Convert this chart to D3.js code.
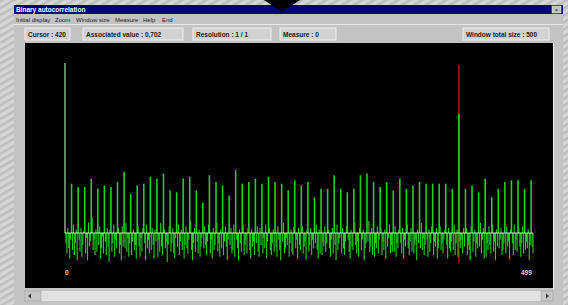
<!DOCTYPE html>
<html>
<head>
<meta charset="utf-8">
<script src="https://cdn.jsdelivr.net/npm/d3@7/dist/d3.min.js"></script>
<style>
  html, body { margin: 0; padding: 0; background: #cfcfcf; }
  svg { display: block; }
  text { font-family: "Liberation Sans", Arial, sans-serif; }
</style>
</head>
<body>
<div id="chart"></div>
<script>
// autocorrelation values, lag 0..499 (one row = one period of 7 lags)
var autocorr = [
  1.00,-0.06,-0.12,0.03,-0.09,-0.15,-0.04,   0.29,-0.10,0.05,-0.13,-0.06,0.02,-0.16,
  0.27,-0.04,-0.11,0.03,-0.14,-0.07,0.01,    0.27,-0.12,-0.03,-0.16,0.06,-0.08,-0.05,
  0.32,0.09,-0.10,-0.04,-0.13,0.02,-0.11,    0.26,-0.07,0.04,-0.15,-0.09,-0.02,-0.12,
  0.28,-0.05,-0.13,0.03,-0.08,-0.17,0.02,    0.27,-0.11,-0.06,0.05,-0.14,-0.04,-0.09,
  0.30,0.03,-0.12,-0.07,-0.16,0.04,-0.08,    0.36,-0.09,0.06,-0.11,-0.03,-0.14,-0.06,
  0.23,-0.13,-0.05,0.02,-0.10,-0.07,-0.15,   0.28,0.04,-0.08,-0.14,-0.03,-0.11,0.03,
  0.29,-0.06,-0.16,0.05,-0.09,-0.04,-0.12,   0.33,-0.10,0.03,-0.07,-0.15,0.02,-0.05,
  0.32,-0.14,-0.04,-0.11,0.06,-0.08,-0.13,   0.35,0.02,-0.09,-0.05,-0.17,-0.07,0.04,
  0.25,-0.11,-0.06,0.03,-0.12,-0.15,-0.03,   0.24,-0.08,0.05,-0.13,-0.05,0.02,-0.10,
  0.32,-0.15,-0.07,0.04,-0.09,-0.12,-0.04,   0.33,0.07,-0.10,-0.16,-0.06,0.03,-0.11,
  0.25,-0.05,-0.12,0.02,-0.14,-0.08,-0.03,   0.18,-0.09,0.04,-0.07,-0.13,-0.05,0.05,
  0.34,-0.12,-0.04,-0.15,0.03,-0.10,-0.07,   0.30,0.06,-0.11,-0.06,-0.14,0.02,-0.09,
  0.28,-0.13,-0.05,0.04,-0.08,-0.16,-0.04,   0.22,-0.07,0.03,-0.12,-0.10,0.05,-0.14,
  0.37,-0.04,-0.09,-0.16,0.02,-0.06,-0.11,   0.29,0.05,-0.13,-0.07,-0.04,-0.12,0.03,
  0.30,-0.10,-0.15,0.02,-0.08,-0.05,-0.13,   0.32,-0.06,0.04,-0.11,-0.14,0.03,-0.07,
  0.29,-0.12,-0.03,-0.09,0.05,-0.15,-0.05,   0.33,0.03,-0.10,-0.13,-0.06,0.02,-0.11,
  0.30,-0.08,-0.14,0.04,-0.04,-0.10,-0.16,   0.29,-0.05,0.06,-0.12,-0.09,-0.03,-0.07,
  0.25,-0.14,-0.06,0.02,-0.11,-0.13,0.04,    0.31,-0.09,-0.04,-0.15,0.03,-0.07,-0.10,
  0.28,0.04,-0.12,-0.08,-0.05,-0.16,0.02,    0.30,-0.11,-0.07,0.03,-0.13,-0.04,-0.09,
  0.21,-0.06,0.05,-0.10,-0.15,0.02,-0.12,    0.26,-0.13,-0.05,-0.08,0.04,-0.11,-0.06,
  0.26,0.02,-0.09,-0.14,-0.04,0.03,-0.12,    0.34,-0.07,-0.16,0.05,-0.10,-0.06,-0.03,
  0.26,-0.12,0.03,-0.09,-0.13,-0.05,0.04,    0.24,-0.04,-0.11,-0.15,0.02,-0.08,-0.10,
  0.26,0.06,-0.07,-0.12,-0.05,-0.14,0.03,    0.34,-0.10,-0.04,0.02,-0.16,-0.09,-0.06,
  0.35,-0.05,0.07,-0.11,-0.08,0.03,-0.13,    0.30,-0.14,-0.06,-0.09,0.04,-0.12,-0.04,
  0.27,0.03,-0.13,-0.05,-0.10,0.02,-0.15,    0.30,-0.08,-0.03,0.05,-0.12,-0.07,-0.11,
  0.25,-0.11,0.04,-0.14,-0.06,-0.09,0.02,    0.32,-0.06,-0.12,0.03,-0.15,-0.04,-0.08,
  0.26,0.05,-0.09,-0.13,-0.05,0.03,-0.11,    0.28,-0.12,-0.07,-0.04,-0.16,0.02,-0.06,
  0.30,-0.09,0.06,-0.10,-0.03,-0.13,-0.07,   0.29,-0.04,-0.14,0.02,-0.11,-0.06,0.04,
  0.29,-0.13,-0.05,-0.08,0.03,-0.15,-0.09,   0.29,0.04,-0.10,-0.06,-0.12,-0.04,0.02,
  0.29,-0.07,-0.15,0.03,-0.09,-0.11,-0.05,   0.26,-0.10,0.05,-0.13,-0.06,0.02,-0.14,
  0.702,-0.05,-0.09,-0.04,-0.12,0.03,-0.08,  0.26,0.03,-0.13,-0.07,-0.10,-0.16,0.04,
  0.28,-0.11,-0.05,0.02,-0.14,-0.06,-0.09,   0.24,-0.08,0.06,-0.12,-0.04,0.03,-0.15,
  0.32,-0.14,-0.06,-0.10,0.04,-0.07,-0.12,   0.21,0.05,-0.11,-0.05,-0.16,0.02,-0.08,
  0.26,-0.09,-0.04,0.03,-0.13,-0.10,-0.06,   0.30,-0.12,0.04,-0.08,-0.05,-0.15,0.02,
  0.31,-0.06,-0.13,0.05,-0.10,-0.04,-0.11,   0.31,0.03,-0.08,-0.14,-0.06,0.04,-0.12,
  0.26,-0.10,-0.05,-0.09,0.02,-0.16,-0.07,   0.31,-0.08,-0.12
];

var menuItems = ['Initial display', 'Zoom', 'Window size', 'Measure', 'Help', 'End'];
var menuX = [16, 55, 76, 115, 143, 162];

var statusFields = [
  {label: 'Cursor : 420', x: 25, w: 45},
  {label: 'Associated value : 0,702', x: 83, w: 100},
  {label: 'Resolution : 1 / 1', x: 193, w: 78},
  {label: 'Measure : 0', x: 280, w: 56},
  {label: 'Window total size : 500', x: 463, w: 86}
];

var cursorLag = 420;
var lagLabels = [0, 499];

var width = 568, height = 305;

var svg = d3.select('#chart').append('svg')
    .attr('width', width)
    .attr('height', height);

// striped backdrop
var defs = svg.append('defs');
var pat = defs.append('pattern')
    .attr('id', 'stripes')
    .attr('width', 6).attr('height', 6)
    .attr('patternUnits', 'userSpaceOnUse')
    .attr('patternTransform', 'rotate(-30)');
pat.append('rect').attr('width', 6).attr('height', 6).attr('fill', '#d6d6d6');
pat.append('rect').attr('width', 6).attr('height', 2.5).attr('fill', '#bdbdbd');

svg.append('rect').attr('width', width).attr('height', height).attr('fill', 'url(#stripes)');

// window body
svg.append('rect')
  .attr('x', 14).attr('y', 5).attr('width', 549).attr('height', 300)
  .attr('fill', '#c3c3c3');

svg.append('rect')
  .attr('x', 14).attr('y', 5).attr('width', 549).attr('height', 9)
  .attr('fill', '#00007c');

// black pointer at the top, over the title bar
svg.append('path')
  .attr('d', 'M264,0 L300,0 L282,12 Z')
  .attr('fill', '#000');

svg.append('text')
  .text('Binary autocorrelation')
  .attr('x', 16).attr('y', 12)
  .attr('fill', '#fff')
  .attr('font-size', 6.5)
  .attr('font-weight', 'bold');

svg.append('rect')
  .attr('x', 552).attr('y', 6).attr('width', 9).attr('height', 7)
  .attr('fill', '#c0c0c0').attr('stroke', '#fff').attr('stroke-width', 0.5);
svg.append('text').text('×')
  .attr('x', 556.5).attr('y', 12).attr('text-anchor', 'middle')
  .attr('font-size', 6).attr('fill', '#333');

// menu bar
svg.selectAll('text.menu')
  .data(menuItems)
  .enter().append('text')
  .attr('class', 'menu')
  .text(function(d) { return d; })
  .attr('x', function(d, i) { return menuX[i]; })
  .attr('y', 22)
  .attr('font-size', 6)
  .attr('fill', '#222');

svg.append('line')
  .attr('x1', 14).attr('x2', 563).attr('y1', 24.5).attr('y2', 24.5)
  .attr('stroke', '#e8e8e8');

// status fields
var field = svg.selectAll('g.field')
  .data(statusFields)
  .enter().append('g')
  .attr('class', 'field');

field.append('rect')
  .attr('x', function(d) { return d.x; })
  .attr('y', 28).attr('width', function(d) { return d.w; }).attr('height', 12)
  .attr('fill', '#d2d2d2')
  .attr('stroke', '#efefef').attr('stroke-width', 1);

field.append('text')
  .text(function(d) { return d.label; })
  .attr('x', function(d) { return d.x + 3; })
  .attr('y', 37)
  .attr('font-size', 6.5)
  .attr('font-weight', 'bold')
  .attr('fill', '#1a1a1a');

// plot area
svg.append('rect')
  .attr('x', 25).attr('y', 43).attr('width', 528).attr('height', 245)
  .attr('fill', '#000');
svg.append('line')
  .attr('x1', 553.5).attr('x2', 553.5).attr('y1', 43).attr('y2', 289)
  .attr('stroke', '#f2f2f2');

var x = d3.scaleLinear().domain([0, 499]).range([65, 533]);
var y = d3.scaleLinear().domain([0, 1]).range([233, 63]);

// cursor line (red, full height)
svg.append('line')
  .attr('x1', x(cursorLag)).attr('x2', x(cursorLag))
  .attr('y1', y(0.99)).attr('y2', y(-0.18))
  .attr('stroke', '#b01010').attr('stroke-width', 1.6);

svg.append('g').selectAll('line')
  .data(autocorr)
  .enter().append('line')
  .attr('x1', function(d, i) { return x(i); })
  .attr('x2', function(d, i) { return x(i); })
  .attr('y1', y(0))
  .attr('y2', function(d) { return y(d); })
  .attr('stroke', function(d, i) { return i === 0 ? '#78a878' : '#22d022'; })
  .attr('stroke-width', function(d, i) { return d > 0.15 ? 1.6 : 1.1; });

// zero line
svg.append('line')
  .attr('x1', x(0)).attr('x2', x(499))
  .attr('y1', y(0)).attr('y2', y(0))
  .attr('stroke', '#bff5b0').attr('stroke-width', 1.2);

svg.selectAll('text.lag')
  .data(lagLabels)
  .enter().append('text')
  .attr('class', 'lag')
  .text(function(d) { return d; })
  .attr('x', function(d) { return d === 0 ? x(d) : x(d) - 12; })
  .attr('y', 275)
  .attr('font-size', 6.5)
  .attr('font-weight', 'bold')
  .attr('fill', '#d8d8d8');

// scrollbar
svg.append('rect')
  .attr('x', 25).attr('y', 291).attr('width', 528).attr('height', 10)
  .attr('fill', '#e2e2e2');
svg.append('rect')
  .attr('x', 25).attr('y', 291).attr('width', 16).attr('height', 10)
  .attr('fill', '#c6c6c6').attr('stroke', '#9a9a9a').attr('stroke-width', 0.5);
svg.append('rect')
  .attr('x', 541).attr('y', 291).attr('width', 12).attr('height', 10)
  .attr('fill', '#c6c6c6').attr('stroke', '#9a9a9a').attr('stroke-width', 0.5);
svg.append('path').attr('d', 'M28,296 L31,293.5 L31,298.5 Z').attr('fill', '#333');
svg.append('path').attr('d', 'M549,296 L546,293.5 L546,298.5 Z').attr('fill', '#333');
</script>
</body>
</html>
